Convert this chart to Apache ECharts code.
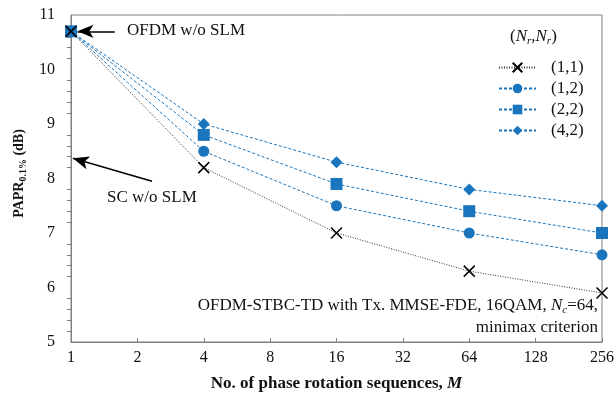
<!DOCTYPE html>
<html>
<head>
<meta charset="utf-8">
<script src="https://cdn.jsdelivr.net/npm/echarts@6/dist/echarts.min.js"></script>
<style>
  html, body { margin: 0; padding: 0; background: #fff; }
  #chart { width: 615px; height: 398px; }
</style>
</head>
<body>
<div id="chart"></div>
<script>
// phase rotation sequences M
var seqM = [1, 4, 16, 64, 256];
// PAPR 0.1% (dB) for each (Nt,Nr)
var papr11 = [10.7, 8.2, 7.0, 6.3, 5.9];
var papr12 = [10.7, 8.5, 7.5, 7.0, 6.6];
var papr22 = [10.7, 8.8, 7.9, 7.4, 7.0];
var papr42 = [10.7, 9.0, 8.3, 7.8, 7.5];
var xTicks = [1, 2, 4, 8, 16, 32, 64, 128, 256];
var yTicks = [5, 6, 7, 8, 9, 10, 11];
// arrow annotations (data coords)
var ofdmRef = [[1.58, 10.7], [1.07, 10.7]];
var scRef = [[2.33, 7.95], [1.02, 8.37]];

var serif = '"Liberation Serif", "DejaVu Serif", serif';
var blue = '#1a75bd';

function pairs(xs, ys) {
  return xs.map(function (x, i) { return [x, ys[i]]; });
}

var chart = echarts.init(document.getElementById('chart'));

var option = {
  animation: false,
  textStyle: { fontFamily: serif },
  grid: {
    left: 71, right: 13, top: 15, bottom: 56,
    outerBoundsMode: 'none', containLabel: false,
    show: true, borderColor: '#808080', borderWidth: 1
  },
  legend: {
    orient: 'vertical',
    left: 493,
    top: 54,
    itemWidth: 37,
    itemHeight: 12,
    itemGap: 4,
    textStyle: { fontFamily: serif, fontSize: 17, color: '#111', padding: [0, 0, 0, 10] },
    data: ['(1,1)', '(1,2)', '(2,2)', '(4,2)']
  },
  xAxis: {
    type: 'log',
    logBase: 2,
    min: 1,
    max: 256,
    name: '{b|No. of phase rotation sequences, }{i|M}',
    nameLocation: 'middle',
    nameGap: 33,
    nameTextStyle: {
      rich: {
        b: { fontFamily: serif, fontWeight: 'bold', fontSize: 17, color: '#111' },
        i: { fontFamily: serif, fontWeight: 'bold', fontStyle: 'italic', fontSize: 17, color: '#111' }
      }
    },
    axisLine: { lineStyle: { color: '#808080' } },
    axisTick: { inside: true, length: 4, lineStyle: { color: '#808080' } },
    axisLabel: {
      fontFamily: serif, fontSize: 16, color: '#111', margin: 8,
      formatter: function (v) { return xTicks.indexOf(Math.round(v)) >= 0 ? String(Math.round(v)) : ''; }
    },
    splitLine: { show: false }
  },
  yAxis: {
    type: 'value',
    min: yTicks[0],
    max: yTicks[yTicks.length - 1],
    interval: 1,
    name: '{b|PAPR}{s|0.1%}{b| (dB)}',
    nameLocation: 'middle',
    nameRotate: 90,
    nameGap: 42,
    nameTextStyle: {
      padding: [0, 0, 0, 10],
      rich: {
        b: { fontFamily: serif, fontWeight: 'bold', fontSize: 14, color: '#111' },
        s: { fontFamily: serif, fontWeight: 'bold', fontSize: 10, color: '#111', padding: [8, 0, 0, 0] }
      }
    },
    axisLine: { show: true, lineStyle: { color: '#808080' } },
    axisTick: { show: false },
    minorTick: { show: true, splitNumber: 5, length: 4, lineStyle: { color: '#808080' } },
    axisLabel: { fontFamily: serif, fontSize: 16, color: '#111', margin: 16 },
    splitLine: { show: false }
  },
  series: [
    {
      name: '(1,1)',
      type: 'line',
      z: 5,
      data: pairs(seqM, papr11),
      symbol: 'path://M0,0L10,10M0,10L10,0',
      symbolSize: 11,
      itemStyle: { color: 'none', borderColor: '#000', borderWidth: 1.5 },
      lineStyle: { color: '#333', width: 1, type: [1, 1.5] },
      markLine: {
        silent: true,
        symbol: ['none', 'arrow'],
        symbolSize: [10, 16],
        label: { show: false },
        lineStyle: { color: '#000', width: 1.5, type: 'solid' },
        data: [
          [{ coord: ofdmRef[0] }, { coord: ofdmRef[1] }],
          [{ coord: scRef[0] }, { coord: scRef[1] }]
        ]
      }
    },
    {
      name: '(1,2)',
      type: 'line',
      data: pairs(seqM, papr12),
      symbol: 'circle',
      symbolSize: 11,
      itemStyle: { color: blue },
      lineStyle: { color: blue, width: 1, type: [3, 2] }
    },
    {
      name: '(2,2)',
      type: 'line',
      data: pairs(seqM, papr22),
      symbol: 'rect',
      symbolSize: 12,
      itemStyle: { color: blue },
      lineStyle: { color: blue, width: 1, type: [3, 2] }
    },
    {
      name: '(4,2)',
      type: 'line',
      data: pairs(seqM, papr42),
      symbol: 'diamond',
      symbolSize: 12,
      itemStyle: { color: blue },
      lineStyle: { color: blue, width: 1, type: [3, 2] }
    }
  ],
  graphic: [
    {
      type: 'text', left: 127, top: 22,
      style: { text: 'OFDM w/o SLM', font: '17px ' + serif, fill: '#111' }
    },
    {
      type: 'text', left: 107, top: 189,
      style: { text: 'SC w/o SLM', font: '17px ' + serif, fill: '#111' }
    },
    {
      type: 'text', left: 510, top: 28,
      style: {
        text: '({i|N}{s|r},{i|N}{s|r})',
        font: '17px ' + serif, fill: '#111',
        rich: {
          i: { fontFamily: serif, fontStyle: 'italic', fontSize: 17 },
          s: { fontFamily: serif, fontStyle: 'italic', fontSize: 11, padding: [9, 0, 0, 0] }
        }
      }
    },
    {
      type: 'text', right: 17, top: 297,
      style: {
        text: 'OFDM-STBC-TD with Tx. MMSE-FDE, 16QAM, {i|N}{s|c}=64,',
        font: '17px ' + serif, fill: '#111',
        rich: {
          i: { fontFamily: serif, fontStyle: 'italic', fontSize: 17 },
          s: { fontFamily: serif, fontStyle: 'italic', fontSize: 11, padding: [9, 0, 0, 0] }
        }
      }
    },
    {
      type: 'text', right: 17, top: 319,
      style: { text: 'minimax criterion', font: '17px ' + serif, fill: '#111' }
    }
  ]
};

chart.setOption(option);
</script>
</body>
</html>
